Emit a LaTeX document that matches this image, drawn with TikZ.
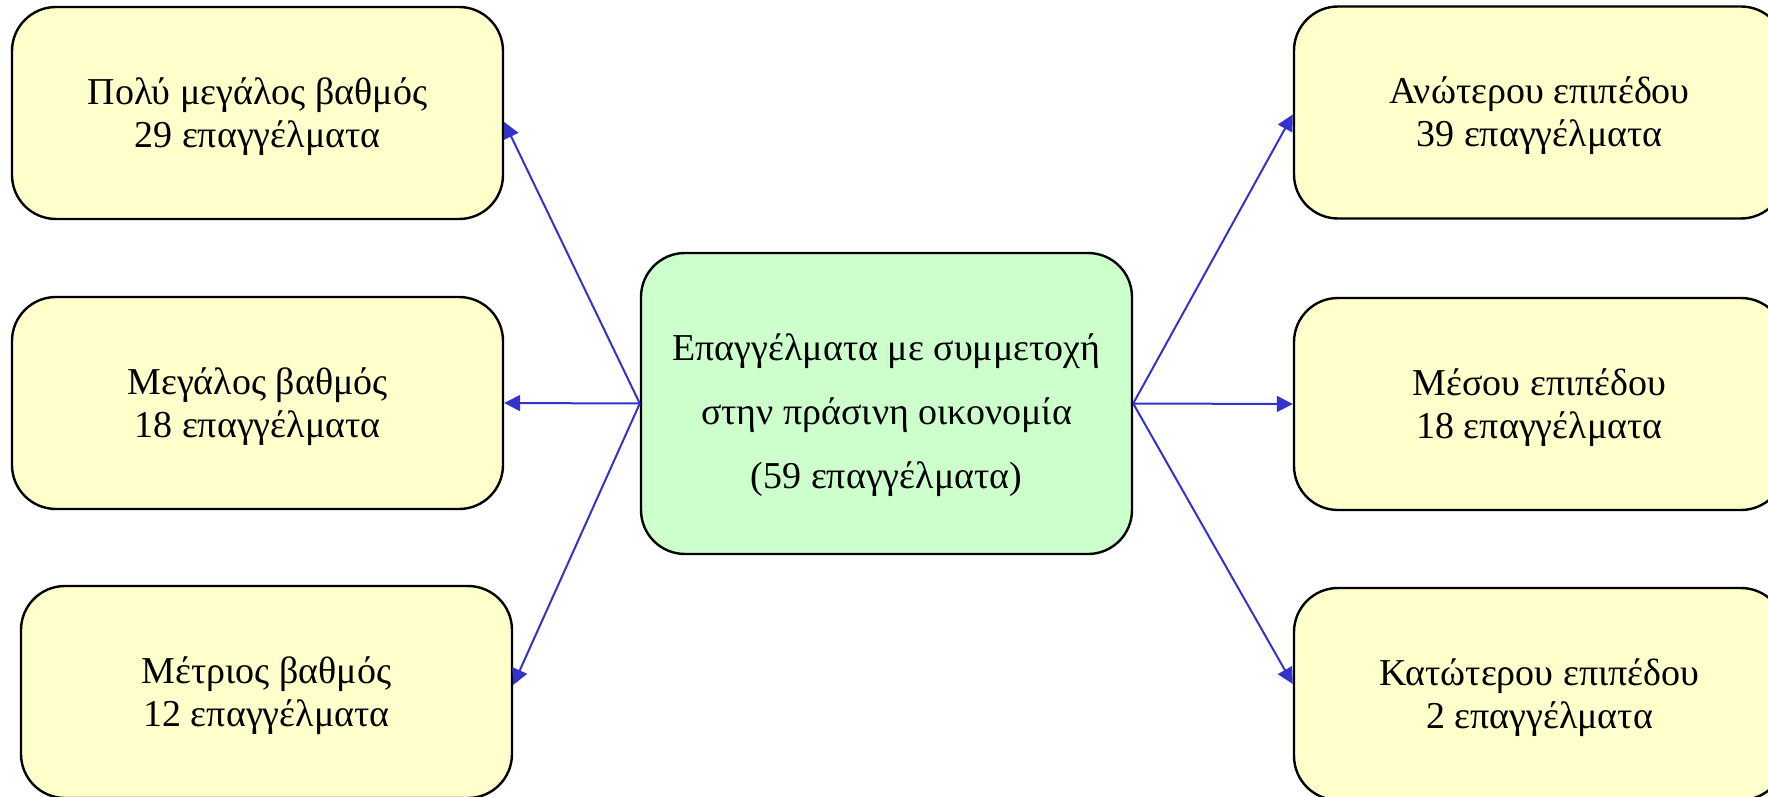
\documentclass[tikz,border=0pt]{standalone}
\usepackage{fontspec}
\setmainfont{Liberation Serif}
\usetikzlibrary{arrows.meta}
\definecolor{boxyellow}{HTML}{FFFFCC}
\definecolor{boxgreen}{HTML}{CCFFCC}
\definecolor{arrowblue}{HTML}{3333CC}
\newcommand{\padtop}[1]{\rule{0pt}{#1}}
\tikzset{
  catbox/.style={draw=black, line width=1.2pt, rounded corners=22pt, fill=boxyellow,
    minimum width=245.5pt, minimum height=106pt, align=center, inner sep=0pt,
    font=\fontsize{19}{21.5}\selectfont},
  mainbox/.style={catbox, fill=boxgreen, minimum height=150.5pt,
    font=\fontsize{19}{32}\selectfont},
  link/.style={draw=arrowblue, line width=1pt, -{Triangle[length=8pt,width=8pt]}}
}
\begin{document}
\begin{tikzpicture}[x=0.5pt,y=-0.5pt]
\useasboundingbox (0,0) rectangle (1768,797);
\clip (0,0) rectangle (1768,797);
\node[mainbox] (c) at (886.5,403.5) {\padtop{25pt}Επαγγέλματα με συμμετοχή\\στην πράσινη οικονομία\\(59 επαγγέλματα)};
\node[catbox] (l1) at (257.5,113) {\padtop{17pt}Πολύ μεγάλος βαθμός\\29 επαγγέλματα};
\node[catbox] (l2) at (257.5,403) {\padtop{17pt}Μεγάλος βαθμός\\18 επαγγέλματα};
\node[catbox] (l3) at (266.5,692) {\padtop{17pt}Μέτριος βαθμός\\12 επαγγέλματα};
\node[catbox] (r1) at (1539.5,112.5) {\padtop{17pt}Ανώτερου επιπέδου\\39 επαγγέλματα};
\node[catbox] (r2) at (1539.5,404) {\padtop{17pt}Μέσου επιπέδου\\18 επαγγέλματα};
\node[catbox] (r3) at (1539.5,694) {\padtop{17pt}Κατώτερου επιπέδου\\2 επαγγέλματα};
\draw[link] (c.west) -- ([yshift=-4.5pt]l1.east);
\draw[link] (c.west) -- (l2.east);
\draw[link] (c.west) -- ([yshift=3.5pt]l3.east);
\draw[link] (c.east) -- ([yshift=-1pt]r1.west);
\draw[link] (c.east) -- (r2.west);
\draw[link] (c.east) -- ([yshift=5pt]r3.west);
\end{tikzpicture}
\end{document}
